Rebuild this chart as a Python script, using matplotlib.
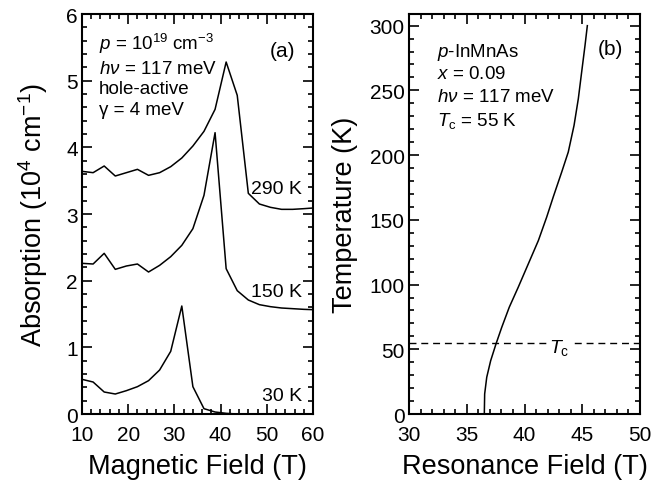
import numpy as np
import matplotlib
matplotlib.use("Agg")
import matplotlib.pyplot as plt
from matplotlib.ticker import MultipleLocator

plt.rcParams["font.family"] = ["Liberation Sans", "DejaVu Sans"]
plt.rcParams["mathtext.fontset"] = "custom"
plt.rcParams["mathtext.rm"] = "Liberation Sans"
plt.rcParams["mathtext.it"] = "Liberation Sans:italic"
plt.rcParams["mathtext.bf"] = "Liberation Sans:bold"

# --------------------------------------------------------------
# Data: (a) absorption vs magnetic field
# --------------------------------------------------------------

field = [10, 12.4, 14.8, 17.2, 19.6, 22, 24.4, 26.8, 29.2, 31.6, 34, 36.4,
         38.8, 41.2, 43.6, 46, 48.4, 50.8, 53.2, 55.6, 58, 60]

abs_290 = [3.64, 3.62, 3.72, 3.57, 3.62, 3.67, 3.58, 3.62, 3.71, 3.84, 4.02, 4.24,
           4.57, 5.28, 4.78, 3.31, 3.15, 3.10, 3.07, 3.07, 3.08, 3.09]
abs_150 = [2.26, 2.25, 2.41, 2.17, 2.22, 2.25, 2.13, 2.23, 2.36, 2.53, 2.78, 3.28,
           4.22, 2.18, 1.85, 1.71, 1.64, 1.61, 1.59, 1.58, 1.57, 1.565]
abs_30 = [0.52, 0.48, 0.33, 0.30, 0.35, 0.41, 0.50, 0.66, 0.94, 1.62, 0.41, 0.08,
          0.03, 0.01, 0.0, 0.0, 0.0, 0.0, 0.0, 0.0, 0.0, 0.0]

temp_labels = ["290 K", "150 K", "30 K"]
temp_label_y = [3.31, 1.775, 0.215]

# --------------------------------------------------------------
# Data: (b) resonance field vs temperature
# --------------------------------------------------------------

res_field = [36.52, 36.55, 36.73, 37.07, 37.53, 38.03, 38.68, 39.46, 40.33,
             41.20, 41.92, 42.50, 43.22, 43.79, 44.29, 44.66, 44.95, 45.24, 45.44]
res_temp = [0, 15.5, 28.4, 41.2, 54.1, 67, 82.5, 98, 116,
            134, 152.1, 168, 186.9, 202.4, 223, 243.6, 264.3, 284.8, 300]
tc = 55

# --------------------------------------------------------------
# Figure
# --------------------------------------------------------------

fig = plt.figure(figsize=(6.54, 4.81), dpi=100)
ax1 = fig.add_axes([0.1254, 0.1372, 0.3532, 0.8316])
ax2 = fig.add_axes([0.6254, 0.1372, 0.3532, 0.8316])

lw = 1.1
for ax in (ax1, ax2):
    for s in ax.spines.values():
        s.set_linewidth(1.5)
    ax.tick_params(which="both", direction="in", top=True, right=True,
                   width=1.2, labelsize=15)
    ax.tick_params(which="major", length=7)
    ax.tick_params(which="minor", length=3.6)
    ax.tick_params(axis="x", pad=8)
    ax.tick_params(axis="y", pad=3)

# (a)
ax1.plot(field, abs_290, color="black", lw=lw)
ax1.plot(field, abs_150, color="black", lw=lw)
ax1.plot(field, abs_30, color="black", lw=lw)
ax1.set_xlim(10, 60)
ax1.set_ylim(0, 6)
ax1.xaxis.set_major_locator(MultipleLocator(10))
ax1.xaxis.set_minor_locator(MultipleLocator(2))
ax1.yaxis.set_major_locator(MultipleLocator(1))
ax1.yaxis.set_minor_locator(MultipleLocator(0.2))
ax1.set_xlabel("Magnetic Field (T)", fontsize=19.5)
ax1.set_ylabel("Absorption (10$^4$ cm$^{-1}$)", fontsize=19.5)
ax1.xaxis.set_label_coords(0.5, -0.097)
ax1.yaxis.set_label_coords(-0.14, 0.5)

for lab, yy in zip(temp_labels, temp_label_y):
    ax1.text(57.6, yy, lab, ha="right", va="baseline", fontsize=14)

ax1.text(56.1, 5.375, "(a)", ha="right", va="baseline", fontsize=15)
ann_a = ["$p$ = 10$^{19}$ cm$^{-3}$", "$h\\nu$ = 117 meV", "hole-active", "\u03b3 = 4 meV"]
ann_a_y = [5.475, 5.115, 4.81, 4.5]
for t, yy in zip(ann_a, ann_a_y):
    ax1.text(13.7, yy, t, ha="left", va="baseline", fontsize=13.5)

# (b)
ax2.plot(res_field, res_temp, color="black", lw=lw)
ax2.axhline(tc, color="black", lw=1.0, ls=(0, (5, 3.5)))
ax2.text(43.0, 48, "$T_{\\rm c}$", ha="center", va="baseline", fontsize=14,
         bbox=dict(facecolor="white", edgecolor="none", pad=1))
ax2.set_xlim(30, 50)
ax2.set_ylim(0, 309)
ax2.xaxis.set_major_locator(MultipleLocator(5))
ax2.xaxis.set_minor_locator(MultipleLocator(1))
ax2.yaxis.set_major_locator(MultipleLocator(50))
ax2.yaxis.set_minor_locator(MultipleLocator(10))
ax2.set_xlabel("Resonance Field (T)", fontsize=19.5)
ax2.set_ylabel("Temperature (K)", fontsize=19.5)
ax2.xaxis.set_label_coords(0.5, -0.097)
ax2.yaxis.set_label_coords(-0.22, 0.5)

ax2.text(48.55, 278.4, "(b)", ha="right", va="baseline", fontsize=15)
ann_b = ["$p$-InMnAs", "$x$ = 0.09", "$h\\nu$ = 117 meV", "$T_{\\rm c}$ = 55 K"]
ann_b_y = [276.6, 259.6, 241.5, 223]
for t, yy in zip(ann_b, ann_b_y):
    ax2.text(32.4, yy, t, ha="left", va="baseline", fontsize=13.5)

fig.savefig("out.png", dpi=100)
